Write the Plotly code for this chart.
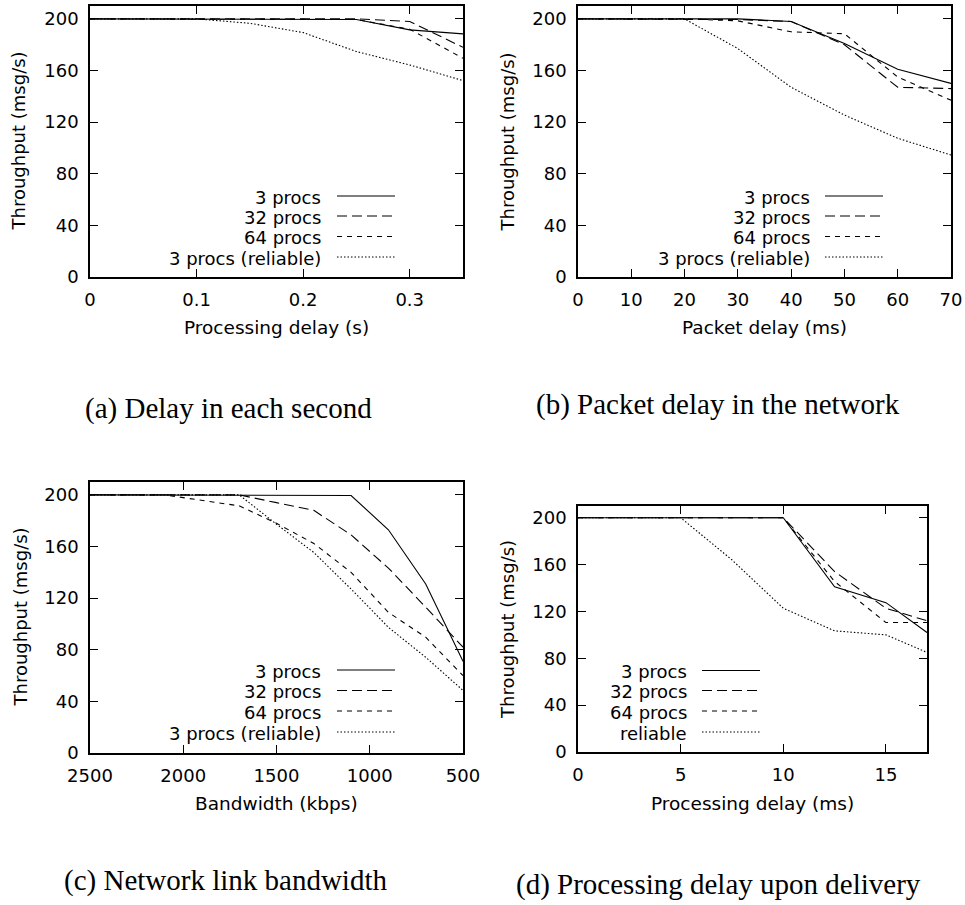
import plotly.graph_objects as go

W, H = 965, 905

# ---------------- data ----------------
series_names = ["3 procs", "32 procs", "64 procs", "3 procs (reliable)"]
series_names_d = ["3 procs", "32 procs", "64 procs", "reliable"]

a_x = [0, 0.05, 0.1, 0.15, 0.2, 0.25, 0.3, 0.35]
a_3 = [200, 200, 200, 200, 200, 199.5, 191.5, 188.4]
a_32 = [200, 200, 200, 200, 200, 200, 198, 178]
a_64 = [200, 200, 200, 200, 200, 199.5, 192, 169.5]
a_rel = [200, 200, 200, 196.6, 189.4, 174.7, 164.3, 152.2]

b_x = [0, 10, 20, 30, 40, 50, 60, 70]
b_3 = [200, 200, 200, 200, 198, 181, 161, 150]
b_32 = [200, 200, 200, 199.5, 198, 180, 147, 146]
b_64 = [200, 200, 200, 198.5, 190, 188.5, 155, 137]
b_rel = [200, 200, 200, 177, 147, 125.5, 107.5, 94.5]

c_x = [2500, 2100, 1700, 1500, 1300, 1100, 900, 700, 500]
c_3 = [200, 200, 200, 200, 200, 199.5, 173, 131, 71]
c_32 = [200, 200, 200, 194, 188, 169, 143.3, 113, 82]
c_64 = [200, 200, 191.5, 178, 162.4, 140, 109, 89.7, 60]
c_rel = [200, 200, 200, 177.3, 155.4, 127, 97.4, 74.2, 48.5]

d_x = [0, 2.5, 5, 7.5, 10, 12.5, 15, 17]
d_3 = [200, 200, 200, 200, 200, 141, 127.5, 102]
d_32 = [200, 200, 200, 200, 200, 154, 122.7, 112]
d_64 = [200, 200, 200, 200, 200, 145.5, 110.5, 110.5]
d_rel = [200, 200, 200, 164, 122.7, 103.4, 100, 85]

y_ticks = [0, 40, 80, 120, 160, 200]
a_ticks = [0, 0.1, 0.2, 0.3]
a_ticktext = ["0", "0.1", "0.2", "0.3"]
b_ticks = [0, 10, 20, 30, 40, 50, 60, 70]
c_ticks = [2500, 2000, 1500, 1000, 500]
d_ticks = [0, 5, 10, 15]

x_titles = ["Processing delay (s)", "Packet delay (ms)", "Bandwidth (kbps)", "Processing delay (ms)"]
y_title = "Throughput (msg/s)"
captions = ["(a) Delay in each second", "(b) Packet delay in the network",
            "(c) Network link bandwidth", "(d) Processing delay upon delivery"]

# ---------------- layout geometry (pixels) ----------------
panels = [
    dict(x0=90, x1=463, y0=6, y1=277),     # a
    dict(x0=578, x1=951, y0=6, y1=277),    # b
    dict(x0=90, x1=463, y0=482, y1=753),   # c
    dict(x0=578, x1=927, y0=506, y1=752),  # d
]
dashes = ["solid", "10px,5px", "5px,5px", "1.5px,2px"]
SANS = "DejaVu Sans"
SERIF = "Liberation Serif"

def px(x):
    return x / W

def py(y):
    return 1 - y / H

fig = go.Figure()

data = [
    (a_x, [a_3, a_32, a_64, a_rel], series_names),
    (b_x, [b_3, b_32, b_64, b_rel], series_names),
    (c_x, [c_3, c_32, c_64, c_rel], series_names),
    (d_x, [d_3, d_32, d_64, d_rel], series_names_d),
]

for i, (xs, ys_list, names) in enumerate(data):
    sfx = "" if i == 0 else str(i + 1)
    for ys, nm, ds in zip(ys_list, names, dashes):
        fig.add_trace(go.Scatter(
            x=xs, y=ys, mode="lines", name=nm, showlegend=False,
            xaxis="x" + sfx, yaxis="y" + sfx,
            line=dict(color="black", width=1.1, dash=ds),
        ))

xranges = [[0, 0.35], [0, 70], [2500, 500], [0, 17]]
xtickvals = [a_ticks, b_ticks, c_ticks, d_ticks]
xticktexts = [a_ticktext, [str(v) for v in b_ticks], [str(v) for v in c_ticks], [str(v) for v in d_ticks]]

axis_common = dict(
    showline=True, linecolor="black", linewidth=1.6, mirror="allticks",
    ticks="inside", ticklen=8, tickwidth=1.2, tickcolor="black",
    showgrid=False, zeroline=False, automargin=False,
    tickfont=dict(family=SANS, size=18, color="black"),
)

layout = dict(
    width=W, height=H, margin=dict(l=0, r=0, t=0, b=0, autoexpand=False),
    plot_bgcolor="white", paper_bgcolor="white", showlegend=False,
    template="none",
)
for i, p in enumerate(panels):
    sfx = "" if i == 0 else str(i + 1)
    layout["xaxis" + sfx] = dict(
        axis_common, domain=[px(p["x0"]), px(p["x1"])], anchor="y" + sfx,
        range=xranges[i], tickmode="array", tickvals=xtickvals[i], ticktext=xticktexts[i],
        ticklabelstandoff=6,
    )
    layout["yaxis" + sfx] = dict(
        axis_common, domain=[py(p["y1"]), py(p["y0"])], anchor="x" + sfx,
        range=[0, 210], tickmode="array", tickvals=y_ticks,
        ticklabelstandoff=6,
    )
fig.update_layout(**layout)

annotations = []
shapes = []
# axis titles
xt_y = [328, 328, 803, 803]
yt_x = [18, 507, 20, 507]
for i, p in enumerate(panels):
    annotations.append(dict(
        x=px((p["x0"] + p["x1"]) / 2), y=py(xt_y[i]), xref="paper", yref="paper",
        text=x_titles[i], showarrow=False, xanchor="center", yanchor="middle",
        font=dict(family=SANS, size=18.5, color="black"),
    ))
    annotations.append(dict(
        x=px(yt_x[i]), y=py((p["y0"] + p["y1"]) / 2), xref="paper", yref="paper",
        text=y_title, showarrow=False, textangle=-90, xanchor="center", yanchor="middle",
        font=dict(family=SANS, size=18, color="black"),
    ))

# captions
cap_pos = [(228, 408), (718, 404), (225, 880), (718, 884)]
for (cx, cy), t in zip(cap_pos, captions):
    annotations.append(dict(
        x=px(cx), y=py(cy), xref="paper", yref="paper", text=t, showarrow=False,
        xanchor="center", yanchor="middle",
        font=dict(family=SERIF, size=29, color="black"),
    ))

# legends (text right-aligned, sample line to the right)
legend_geo = [
    dict(tx=323, l0=337, l1=395, rows=[197, 217, 237.5, 258]),
    dict(tx=812, l0=825, l1=883, rows=[197, 217, 237.5, 258]),
    dict(tx=323, l0=337, l1=395, rows=[671, 691.5, 712, 733]),
    dict(tx=689, l0=702, l1=760, rows=[671.5, 691.5, 712, 733]),
]
for i, g in enumerate(legend_geo):
    names = data[i][2]
    for nm, ry, ds in zip(names, g["rows"], dashes):
        annotations.append(dict(
            x=px(g["tx"]), y=py(ry), xref="paper", yref="paper", text=nm,
            showarrow=False, xanchor="right", yanchor="middle",
            font=dict(family=SANS, size=18, color="black"),
        ))
        shapes.append(dict(
            type="line", xref="paper", yref="paper",
            x0=px(g["l0"]), x1=px(g["l1"]), y0=py(ry - 1), y1=py(ry - 1),
            line=dict(color="black", width=1.1, dash=ds),
        ))

fig.update_layout(annotations=annotations, shapes=shapes)
fig.write_html(
    "out.html",
    config={"displayModeBar": False},
    post_script="document.body.style.margin='0';document.body.style.overflow='hidden';",
)
